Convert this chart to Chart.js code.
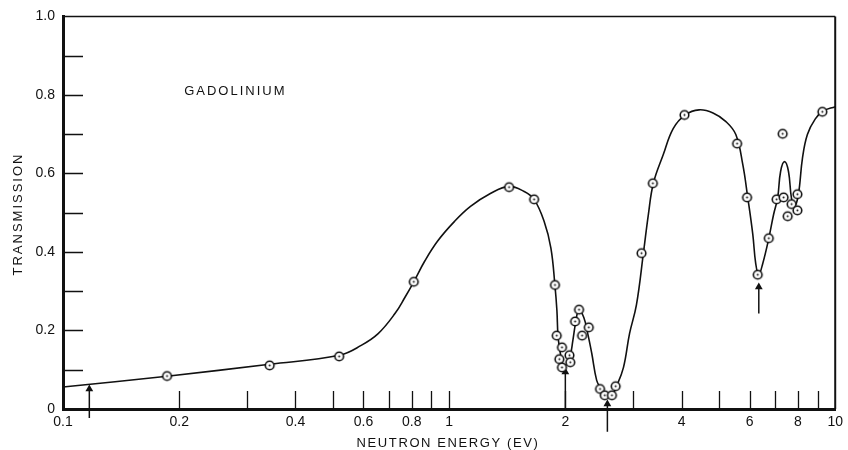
<!DOCTYPE html>
<html>
<head>
<meta charset="utf-8">
<script src="https://cdn.jsdelivr.net/npm/chart.js@4"></script>
<style>
  html, body { margin: 0; padding: 0; background: #fff; }
  #wrap { width: 848px; height: 450px; }
</style>
</head>
<body>
<div id="wrap"><canvas id="chart" width="848" height="450"></canvas></div>
<script>
// measured points (neutron energy in eV, transmission)
const pointEnergy = [0.186, 0.343, 0.519, 0.81, 1.43, 1.66, 1.88, 1.90, 1.96, 1.93, 1.96, 2.05, 2.06,
  2.12, 2.17, 2.21, 2.30, 2.46, 2.53, 2.64, 2.70, 3.15, 3.37, 4.07, 5.57, 5.91, 6.30, 6.73,
  7.05, 7.35, 7.31, 7.71, 7.53, 7.98, 7.98, 9.26];
const pointTransmission = [0.084, 0.111, 0.134, 0.324, 0.565, 0.534, 0.316, 0.187, 0.157, 0.127, 0.106, 0.137, 0.119,
  0.223, 0.253, 0.187, 0.208, 0.051, 0.035, 0.035, 0.058, 0.397, 0.575, 0.749, 0.676, 0.539, 0.342, 0.435,
  0.534, 0.539, 0.701, 0.522, 0.491, 0.547, 0.506, 0.757];

// hand-drawn curve
const curveEnergy = [0.1, 0.186, 0.343, 0.52, 0.592, 0.655, 0.724, 0.768, 0.81, 0.865, 0.934, 1.033, 1.136,
  1.279, 1.431, 1.564, 1.66, 1.762, 1.835, 1.88, 1.902, 1.914, 1.936, 1.971, 1.983, 2.054, 2.092, 2.129,
  2.168, 2.233, 2.286, 2.341, 2.411, 2.469, 2.543, 2.635, 2.714, 2.829, 2.933, 3.056, 3.186, 3.282, 3.381,
  3.587, 3.805, 4.087, 4.44, 4.825, 5.212, 5.528, 5.762, 5.935, 6.115, 6.225, 6.337, 6.489, 6.724, 6.927,
  7.093, 7.22, 7.393, 7.568, 7.703, 7.842, 8.03, 8.223, 8.471, 8.88, 9.314, 10];
const curveTransmission = [0.056, 0.0835, 0.114, 0.137, 0.162, 0.192, 0.243, 0.284, 0.324, 0.377, 0.428, 0.478, 0.516,
  0.549, 0.567, 0.554, 0.534, 0.478, 0.41, 0.314, 0.251, 0.187, 0.149, 0.106, 0.104, 0.132, 0.175, 0.223,
  0.253, 0.233, 0.192, 0.142, 0.073, 0.053, 0.035, 0.035, 0.058, 0.106, 0.192, 0.265, 0.397, 0.496, 0.575,
  0.648, 0.714, 0.749, 0.762, 0.754, 0.732, 0.699, 0.623, 0.539, 0.446, 0.37, 0.342, 0.37, 0.433, 0.496,
  0.537, 0.605, 0.63, 0.605, 0.537, 0.516, 0.547, 0.638, 0.699, 0.739, 0.759, 0.77];

// resonance arrows
const arrowEnergy = [0.117, 2.0, 2.57, 6.34];
const arrowTail = [-0.023, 0, -0.058, 0.243];
const arrowHead = [0.051, 0.094, 0.013, 0.311];

const xLabelValues = [0.1, 0.2, 0.4, 0.6, 0.8, 1, 2, 4, 6, 8, 10];
const xLabels = ['0.1', '0.2', '0.4', '0.6', '0.8', '1', '2', '4', '6', '8', '10'];
const xMinorValues = [0.2, 0.3, 0.4, 0.5, 0.6, 0.7, 0.8, 0.9, 1, 2, 3, 4, 5, 6, 7, 8, 9];
const yLabelValues = [0, 0.2, 0.4, 0.6, 0.8, 1.0];
const yLabels = ['0', '0.2', '0.4', '0.6', '0.8', '1.0'];
const yMinorValues = [0.1, 0.2, 0.3, 0.4, 0.5, 0.6, 0.7, 0.8, 0.9];

const INK = '#111';
const FONT = '"Liberation Sans", Arial, sans-serif';

// circle with a dot in the middle
function makeMarker() {
  const c = document.createElement('canvas');
  c.width = 13; c.height = 13;
  const g = c.getContext('2d');
  g.beginPath();
  g.arc(6.5, 6.5, 4.3, 0, Math.PI * 2);
  g.fillStyle = '#fff';
  g.fill();
  g.lineWidth = 1.6;
  g.strokeStyle = INK;
  g.stroke();
  g.beginPath();
  g.arc(6.5, 6.5, 1, 0, Math.PI * 2);
  g.fillStyle = INK;
  g.fill();
  return c;
}
const marker = makeMarker();

const datasets = [
  {
    data: pointEnergy.map((e, i) => ({ x: e, y: pointTransmission[i] })),
    pointStyle: marker,
    showLine: false
  },
  {
    data: curveEnergy.map((e, i) => ({ x: e, y: curveTransmission[i] })),
    showLine: true,
    borderColor: INK,
    borderWidth: 1.6,
    pointRadius: 0,
    tension: 0.4
  }
];
arrowEnergy.forEach((e, i) => {
  datasets.push({
    data: [{ x: e, y: arrowTail[i] }, { x: e, y: arrowHead[i] }],
    showLine: true,
    borderColor: INK,
    backgroundColor: INK,
    borderWidth: 1.5,
    pointStyle: 'triangle',
    pointRadius: [0, 4.5],
    pointBorderWidth: 0,
    clip: false
  });
});

const frame = {
  id: 'frame',
  beforeDatasetsDraw(chart) {
    const { ctx, chartArea: a, scales: { x, y } } = chart;
    ctx.save();
    ctx.strokeStyle = INK;
    ctx.lineWidth = 1.3;
    ctx.beginPath();
    yMinorValues.forEach(v => {
      const py = Math.round(y.getPixelForValue(v)) + 0.5;
      ctx.moveTo(a.left, py);
      ctx.lineTo(a.left + 20, py);
    });
    xMinorValues.forEach(v => {
      const px = Math.round(x.getPixelForValue(v)) + 0.5;
      ctx.moveTo(px, a.bottom);
      ctx.lineTo(px, a.bottom - 18);
    });
    ctx.stroke();
    ctx.lineWidth = 1.5;
    ctx.beginPath();
    ctx.moveTo(a.left, a.top);
    ctx.lineTo(a.right, a.top);
    ctx.stroke();
    ctx.lineWidth = 2;
    ctx.beginPath();
    ctx.moveTo(a.right, a.top);
    ctx.lineTo(a.right, a.bottom);
    ctx.stroke();
    ctx.restore();
  },
  afterDraw(chart) {
    const { ctx, scales: { x, y } } = chart;
    ctx.save();
    ctx.fillStyle = INK;
    ctx.font = '13px ' + FONT;
    ctx.letterSpacing = '2px';
    ctx.textBaseline = 'middle';
    ctx.textAlign = 'left';
    ctx.fillText('GADOLINIUM', x.getPixelForValue(0.206), y.getPixelForValue(0.81));

    ctx.textAlign = 'center';
    ctx.letterSpacing = '1.6px';
    ctx.fillText('NEUTRON ENERGY (EV)', 448, 443);

    ctx.letterSpacing = '2px';
    ctx.translate(18, 214);
    ctx.rotate(-Math.PI / 2);
    ctx.fillText('TRANSMISSION', 0, 0);
    ctx.restore();
  }
};

new Chart(document.getElementById('chart'), {
  type: 'scatter',
  data: { datasets },
  options: {
    responsive: false,
    devicePixelRatio: 1,
    animation: false,
    layout: { padding: { top: 14, right: 8, left: 0, bottom: 0 } },
    plugins: { legend: { display: false }, tooltip: { enabled: false } },
    scales: {
      x: {
        type: 'logarithmic',
        min: 0.1,
        max: 10,
        afterBuildTicks: s => { s.ticks = xLabelValues.map(v => ({ value: v })); },
        afterFit: s => { s.height = 41; },
        ticks: {
          autoSkip: false,
          maxRotation: 0,
          padding: 5,
          color: INK,
          font: { family: FONT, size: 14 },
          callback: (v, i) => xLabels[i]
        },
        grid: { display: false, drawTicks: false },
        border: { display: true, color: INK, width: 3 }
      },
      y: {
        min: 0,
        max: 1,
        afterBuildTicks: s => { s.ticks = yLabelValues.map(v => ({ value: v })); },
        afterFit: s => { s.width = 63; },
        ticks: {
          padding: 8,
          color: INK,
          font: { family: FONT, size: 14 },
          callback: (v, i) => yLabels[i]
        },
        grid: { display: false, drawTicks: false },
        border: { display: true, color: INK, width: 3 }
      }
    }
  },
  plugins: [frame]
});
</script>
</body>
</html>
